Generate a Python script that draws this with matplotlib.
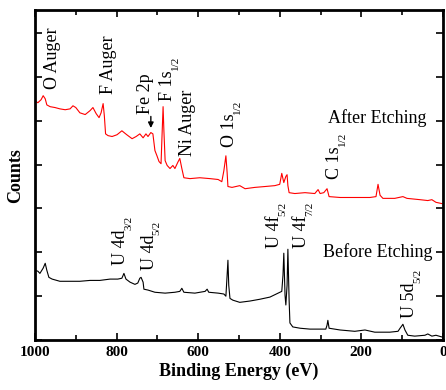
#!/usr/bin/env python3
"""
XPS survey spectra of the sample before and after etching.
"""

import matplotlib

matplotlib.use("Agg")

import matplotlib.pyplot as plt
from matplotlib.ticker import MultipleLocator


# Spectrum after etching (binding energy in eV, counts in arbitrary units)
AFTER_ENERGY = [
    1000, 993, 985, 980, 975, 971, 963, 951, 939, 926, 914, 907, 900, 890,
    877, 865, 858, 850, 843, 838, 833, 830, 827, 821, 811, 799, 787, 775,
    762, 752, 743, 735, 728, 723, 716, 711, 706, 701, 696, 691, 689, 686,
    684, 681, 676, 669, 662, 657, 650, 645, 640, 635, 620, 596, 571, 551,
    542, 537, 532, 529, 527, 517, 498, 485, 461, 436, 412, 400, 395, 390,
    385, 382, 380, 377, 363, 338, 314, 306, 301, 292, 284, 279, 252, 216,
    179, 164, 159, 154, 147, 118, 98, 88, 56, 37, 27, 17, 2,
]
AFTER_COUNTS = [
    5.45, 5.41, 5.48, 5.57, 5.50, 5.36, 5.32, 5.30, 5.27, 5.25, 5.27, 5.34,
    5.30, 5.18, 5.14, 5.23, 5.30, 5.16, 5.07, 5.18, 5.39, 5.11, 4.70, 4.66,
    4.64, 4.68, 4.77, 4.68, 4.59, 4.64, 4.70, 4.61, 4.70, 4.64, 4.73, 4.70,
    4.32, 4.20, 4.07, 4.02, 4.55, 5.32, 4.77, 4.09, 3.98, 3.91, 3.98, 3.91,
    4.05, 4.14, 3.91, 3.70, 3.68, 3.70, 3.68, 3.66, 3.61, 3.86, 4.20, 3.82,
    3.50, 3.48, 3.52, 3.45, 3.48, 3.50, 3.52, 3.55, 3.80, 3.59, 3.73, 3.77,
    3.52, 3.36, 3.34, 3.36, 3.34, 3.43, 3.34, 3.36, 3.45, 3.27, 3.25, 3.25,
    3.25, 3.27, 3.55, 3.30, 3.23, 3.23, 3.27, 3.23, 3.20, 3.18, 3.20, 3.14,
    3.11,
]

# Spectrum before etching
BEFORE_ENERGY = [
    1000, 993, 988, 980, 975, 971, 966, 958, 939, 914, 890, 865, 841, 816,
    797, 787, 782, 777, 767, 755, 748, 743, 740, 735, 733, 723, 706, 681,
    657, 645, 640, 635, 608, 583, 578, 574, 551, 537, 532, 529, 527, 525,
    522, 515, 498, 473, 449, 424, 404, 395, 392, 390, 387, 385, 382, 380,
    377, 375, 368, 350, 326, 301, 287, 284, 282, 279, 252, 216, 191, 167,
    130, 110, 105, 101, 98, 93, 86, 69, 44, 37, 27, 17, 2,
]
BEFORE_COUNTS = [
    1.59, 1.57, 1.52, 1.64, 1.75, 1.59, 1.43, 1.39, 1.34, 1.34, 1.34, 1.36,
    1.36, 1.39, 1.39, 1.41, 1.52, 1.39, 1.32, 1.27, 1.30, 1.41, 1.43, 1.32,
    1.16, 1.14, 1.09, 1.07, 1.09, 1.11, 1.18, 1.09, 1.07, 1.11, 1.16, 1.09,
    1.07, 1.05, 1.00, 1.48, 1.82, 1.25, 0.95, 0.91, 0.86, 0.89, 0.93, 0.98,
    1.07, 1.11, 1.48, 1.98, 1.02, 0.80, 1.25, 2.07, 0.91, 0.39, 0.30, 0.27,
    0.25, 0.25, 0.25, 0.34, 0.45, 0.27, 0.23, 0.20, 0.23, 0.18, 0.18, 0.20,
    0.27, 0.32, 0.36, 0.23, 0.11, 0.09, 0.11, 0.14, 0.09, 0.11, 0.07,
]

# Peak labels: text, subscript, energy of label centre, counts at label start
PEAK_LABELS = [
    "O Auger", "F Auger", "Fe 2p", "F 1s", "Ni Auger", "O 1s", "C 1s",
    "U 4d", "U 4d", "U 4f", "U 4f", "U 5d",
]
PEAK_SUBSCRIPTS = [
    "", "", "", "1/2", "", "1/2", "1/2", "3/2", "5/2", "5/2", "7/2", "5/2",
]
PEAK_LABEL_ENERGY = [958, 819, 730, 676, 627, 523, 266, 790, 720, 413, 346, 81]
PEAK_LABEL_COUNTS = [5.73, 5.61, 5.16, 5.45, 4.20, 4.39, 3.68, 1.70, 1.59,
                     2.09, 2.09, 0.50]

# Fe 2p arrow (tail, tip)
FE_ARROW_ENERGY = 716
FE_ARROW_COUNTS = [5.16, 4.77]

X_TICKS = [1000, 800, 600, 400, 200, 0]


def add_peak_labels(figure, axis):
    main_texts = []
    for text, energy, counts in zip(
        PEAK_LABELS, PEAK_LABEL_ENERGY, PEAK_LABEL_COUNTS
    ):
        main_texts.append(
            axis.text(
                energy,
                counts,
                text,
                rotation=90,
                ha="center",
                va="bottom",
                fontsize=13,
            )
        )

    # subscripts go right after the main text, shifted towards the baseline
    figure.canvas.draw()
    renderer = figure.canvas.get_renderer()
    for main_text, subscript in zip(main_texts, PEAK_SUBSCRIPTS):
        if not subscript:
            continue
        box = main_text.get_window_extent(renderer)
        figure.text(
            box.x1 - 5,
            box.y1,
            subscript,
            transform=None,
            rotation=90,
            ha="left",
            va="bottom",
            fontsize=8,
        )


def main():
    plt.rcParams["font.family"] = "Liberation Serif"

    figure = plt.figure(figsize=(4.46, 3.90), dpi=100)
    axis = figure.add_axes([0.0785, 0.128, 0.9145, 0.846])

    axis.plot(AFTER_ENERGY, AFTER_COUNTS, color="#ff0000", linewidth=0.8)
    axis.plot(BEFORE_ENERGY, BEFORE_COUNTS, color="black", linewidth=0.8)

    axis.annotate(
        "",
        xy=(FE_ARROW_ENERGY, FE_ARROW_COUNTS[1]),
        xytext=(FE_ARROW_ENERGY, FE_ARROW_COUNTS[0]),
        arrowprops=dict(arrowstyle="-|>", color="black", lw=1.0,
                        mutation_scale=8),
    )

    axis.text(160, 5.05, "After Etching", ha="center", va="center",
              fontsize=13)
    axis.text(160, 2.0, "Before Etching", ha="center", va="center",
              fontsize=13)

    axis.set_xlim(1000, 0)
    axis.set_ylim(0, 7.52)

    axis.set_xticks(X_TICKS)
    axis.xaxis.set_minor_locator(MultipleLocator(100))
    axis.yaxis.set_major_locator(MultipleLocator(1))

    axis.tick_params(
        which="both",
        direction="in",
        top=True,
        right=True,
        labelleft=False,
        width=1.2,
    )
    axis.tick_params(which="major", length=5, pad=4)
    axis.tick_params(which="minor", length=3.5)

    for label in axis.get_xticklabels():
        label.set_fontweight("bold")
        label.set_fontsize(11)

    for spine in axis.spines.values():
        spine.set_linewidth(2.0)

    axis.set_xlabel("Binding Energy (eV)", fontsize=13, fontweight="bold",
                    labelpad=3)
    axis.set_ylabel("Counts", fontsize=13, fontweight="bold", labelpad=8)

    add_peak_labels(figure, axis)

    figure.savefig("out.png", dpi=100)
    plt.close(figure)


if __name__ == "__main__":
    main()
